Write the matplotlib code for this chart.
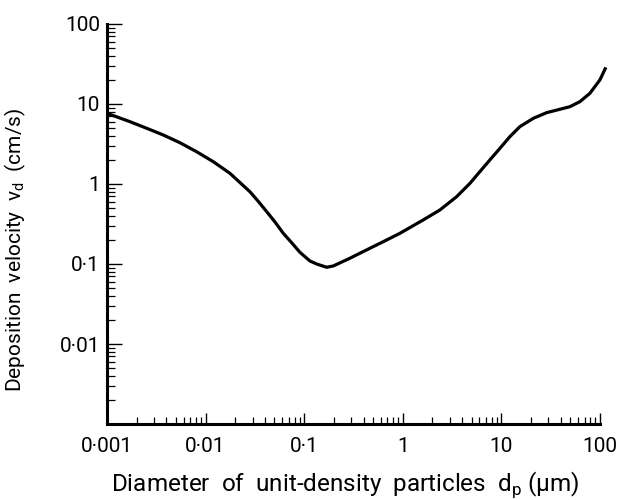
import numpy as np
import matplotlib
matplotlib.use("Agg")
import matplotlib.pyplot as plt
from matplotlib.ticker import FixedLocator, FixedFormatter, LogLocator, NullFormatter

plt.rcParams['font.family'] = ['Roboto', 'DejaVu Sans']
plt.rcParams['mathtext.fontset'] = 'custom'
plt.rcParams['mathtext.rm'] = 'Roboto'

# particle diameter (µm) and deposition velocity (cm/s)
diameter = [0.001, 0.00171, 0.00253, 0.00372, 0.0055, 0.00812, 0.01197, 0.01766,
            0.0282, 0.034, 0.0417, 0.0506, 0.0614, 0.0743, 0.0906, 0.1145,
            0.134, 0.169, 0.197, 0.291, 0.430, 0.634, 0.937, 1.61, 2.38, 3.52,
            4.81, 6.07, 7.66, 9.68, 12.2, 15.4, 21.1, 28.8, 39.3, 49.6, 62.7,
            79.2, 100.0, 115.0]
velocity = [7.65, 6.01, 4.97, 4.10, 3.28, 2.53, 1.90, 1.36,
            0.80, 0.613, 0.451, 0.335, 0.242, 0.186, 0.140, 0.109,
            0.100, 0.091, 0.0944, 0.118, 0.150, 0.190, 0.242, 0.355, 0.473, 0.694,
            1.02, 1.43, 2.0, 2.79, 3.90, 5.20, 6.62, 7.79, 8.59, 9.25, 10.7,
            13.6, 20.0, 28.7]

x_ticks = [0.001, 0.01, 0.1, 1, 10, 100]
x_tick_labels = ['0·001', '0·01', '0·1', '1', '10', '100']
y_ticks = [0.01, 0.1, 1, 10, 100]
y_tick_labels = ['0·01', '0·1', '1', '10', '100']

fig = plt.figure(figsize=(6.21, 5.0), dpi=100)
ax = fig.add_axes([0.1723, 0.152, 0.7937, 0.80])

ax.plot(diameter, velocity, color='black', lw=2.3, solid_joinstyle='round',
        solid_capstyle='butt', clip_on=False)

ax.set_xscale('log')
ax.set_yscale('log')
ax.set_xlim(0.001, 100)
ax.set_ylim(0.001, 100)

ax.xaxis.set_major_locator(FixedLocator(x_ticks))
ax.xaxis.set_major_formatter(FixedFormatter(x_tick_labels))
ax.yaxis.set_major_locator(FixedLocator(y_ticks))
ax.yaxis.set_major_formatter(FixedFormatter(y_tick_labels))
ax.xaxis.set_minor_locator(LogLocator(base=10, subs=np.arange(2, 10), numticks=20))
ax.yaxis.set_minor_locator(LogLocator(base=10, subs=np.arange(2, 10), numticks=20))
ax.xaxis.set_minor_formatter(NullFormatter())
ax.yaxis.set_minor_formatter(NullFormatter())

for s in ['top', 'right']:
    ax.spines[s].set_visible(False)
for s in ['left', 'bottom']:
    ax.spines[s].set_linewidth(2.2)

ax.tick_params(axis='x', which='major', direction='in', length=8, width=1.0,
               pad=9, labelsize=15)
ax.tick_params(axis='x', which='minor', direction='in', length=5, width=0.9)
ax.tick_params(axis='y', which='major', direction='in', length=11, width=1.0,
               pad=5, labelsize=15)
ax.tick_params(axis='y', which='minor', direction='in', length=6, width=0.9)

ax.set_xlabel('Diameter  of  unit-density  particles  d$_\\mathregular{p}$ (µm)',
              fontsize=17.5)
ax.set_ylabel('Deposition  velocity  v$_\\mathregular{d}$  (cm/s)',
              fontsize=15)
# label centres placed as in the original figure
ax.xaxis.set_label_coords((345.5 - 107) / 493.0, -(485 - 424) / 400.0)
ax.yaxis.set_label_coords(-(107 - 15) / 493.0, (424 - 250) / 400.0)
ax.xaxis.label.set_va('center')
ax.yaxis.label.set_va('center')

fig.savefig('out.png', dpi=100)
